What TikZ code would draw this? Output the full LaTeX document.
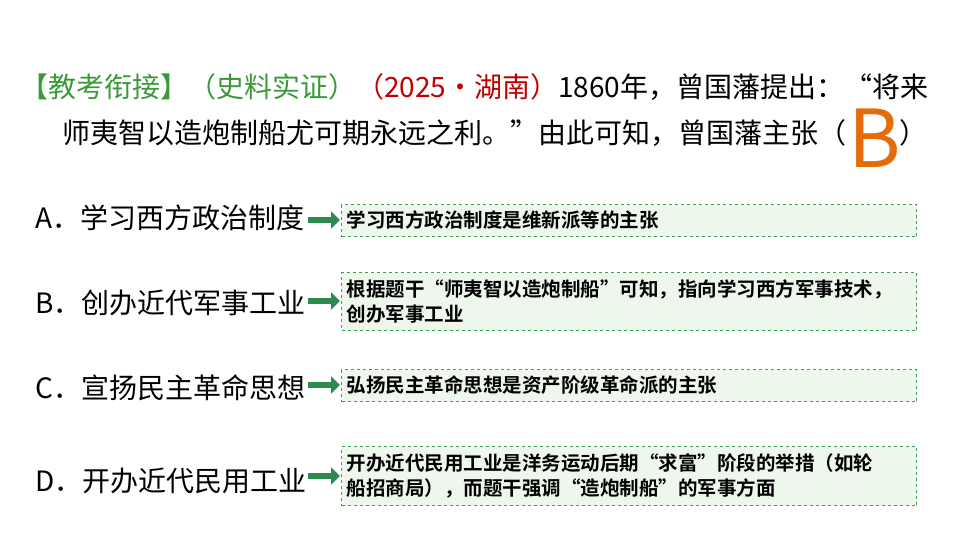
\documentclass[tikz,border=0pt]{standalone}
\usepackage{fontspec}
\setmainfont{Noto Sans CJK SC}
\newfontfamily\cjkb{Noto Sans CJK SC Bold}
\XeTeXlinebreaklocale "zh"
\usetikzlibrary{arrows.meta}
\definecolor{tgreen}{HTML}{3A9A3A}
\definecolor{tred}{HTML}{C00000}
\definecolor{borange}{HTML}{E46C0A}
\definecolor{bfill}{HTML}{EEF7EC}
\definecolor{bdraw}{HTML}{3F9F5A}
\definecolor{agreen}{HTML}{2E8B4F}
\begin{document}
\begin{tikzpicture}[x=1pt,y=-1pt,
  opt/.style={anchor=west,inner sep=0,font=\fontsize{28}{30}\selectfont},
  expbox/.style={draw=bdraw,dashed,line width=1pt,fill=bfill,anchor=north west,minimum width=573pt,text width=565pt,align=left,inner sep=5pt,font=\cjkb\fontsize{19.5}{25}\selectfont},
  garrow/.style={draw=agreen,line width=6pt,-{Triangle[length=9pt,width=17pt]},shorten >=1pt}]
\useasboundingbox (0,0) rectangle (960,540);
\node[anchor=west,inner sep=0,font=\fontsize{28}{30}\selectfont] (t1) at (20,87) {\textcolor{tgreen}{【教考衔接】（史料实证）}\textcolor{tred}{（2025·湖南）}1860年，曾国藩提出：“将来};
\node[anchor=west,inner sep=0,font=\fontsize{28}{30}\selectfont] (t2) at (62,133) {师夷智以造炮制船尤可期永远之利。”由此可知，曾国藩主张（\hspace{1.9em}）};
\node[inner sep=0,text=borange,font=\fontsize{80}{80}\selectfont] (ans) at (875,138) {B};

\node[opt] (oa) at (35,218) {A．学习西方政治制度};
\node[opt] (ob) at (35,303) {B．创办近代军事工业};
\node[opt] (oc) at (35,388) {C．宣扬民主革命思想};
\node[opt] (od) at (35,481) {D．开办近代民用工业};

\node[expbox,minimum height=32pt] (ba) at (341,204) {学习西方政治制度是维新派等的主张};
\node[expbox,minimum height=58pt] (bb) at (341,272) {根据题干“师夷智以造炮制船”可知，指向学习西方军事技术，\\创办军事工业};
\node[expbox,minimum height=32pt] (bc) at (341,369) {弘扬民主革命思想是资产阶级革命派的主张};
\node[expbox,minimum height=59pt] (bd) at (341,446) {开办近代民用工业是洋务运动后期“求富”阶段的举措（如轮\\船招商局），而题干强调“造炮制船”的军事方面};

\coordinate (sa) at (308,220);
\coordinate (sb) at (308,301);
\coordinate (sc) at (308,385);
\coordinate (sd) at (308,476);
\draw[garrow] (sa) -- (sa -| ba.west);
\draw[garrow] (sb) -- (sb -| bb.west);
\draw[garrow] (sc) -- (sc -| bc.west);
\draw[garrow] (sd) -- (sd -| bd.west);
\end{tikzpicture}
\end{document}
